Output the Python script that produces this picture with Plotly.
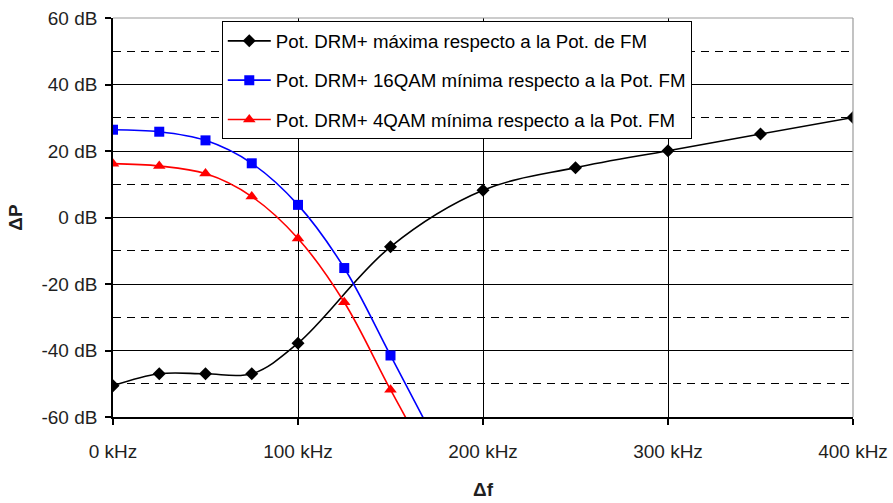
import plotly.graph_objects as go

# Data (frequency offset in kHz, power difference in dB)
freq_black = [0, 25, 50, 75, 100, 150, 200, 250, 300, 350, 400]
p_max = [-50.6, -47.0, -47.0, -47.0, -37.8, -8.8, 8.2, 15.0, 20.1, 25.1, 30.1]

freq_qam = [0, 25, 50, 75, 100, 125, 150, 175]
p_16qam = [26.4, 25.8, 23.2, 16.3, 3.8, -15.2, -41.5, -68.0]
p_4qam = [16.2, 15.5, 13.2, 6.3, -6.3, -25.5, -51.8, -77.0]

names = [
    "Pot. DRM+ máxima respecto a la Pot. de FM",
    "Pot. DRM+ 16QAM mínima respecto a la Pot. FM",
    "Pot. DRM+ 4QAM mínima respecto a la Pot. FM",
]

x_ticks = [0, 100, 200, 300, 400]
x_labels = ["0 kHz", "100 kHz", "200 kHz", "300 kHz", "400 kHz"]
y_ticks = [-60, -40, -20, 0, 20, 40, 60]
y_labels = ["-60 dB", "-40 dB", "-20 dB", "0 dB", "20 dB", "40 dB", "60 dB"]

FONT = "Liberation Sans, Arial, sans-serif"
TXT = "#1f1f1f"

fig = go.Figure()
fig.add_trace(go.Scatter(
    x=freq_black, y=p_max, name=names[0], mode="lines+markers",
    line=dict(color="black", width=1.6, shape="spline", smoothing=1.0),
    marker=dict(symbol="diamond", size=10, color="black"),
    legendgroup="a",
))
fig.add_trace(go.Scatter(
    x=freq_qam, y=p_16qam, name=names[1], mode="lines+markers",
    line=dict(color="#0000ff", width=1.6, shape="spline", smoothing=1.0),
    marker=dict(symbol="square", size=10, color="#0000ff"),
    legendgroup="b",
))
fig.add_trace(go.Scatter(
    x=freq_qam, y=p_4qam, name=names[2], mode="lines+markers",
    line=dict(color="#ff0000", width=1.6, shape="spline", smoothing=1.0),
    marker=dict(symbol="triangle-up", size=11, color="#ff0000"),
    legendgroup="c",
))

fig.update_layout(
    width=893, height=503,
    margin=dict(l=113, r=40, t=18, b=86),
    paper_bgcolor="white", plot_bgcolor="white",
    font=dict(family=FONT, size=19, color=TXT),
    showlegend=True,
    legend=dict(
        x=0.147, y=0.992, xanchor="left", yanchor="top",
        bgcolor="white", bordercolor="black", borderwidth=1,
        font=dict(family=FONT, size=18.7, color="black"),
        traceorder="grouped", tracegroupgap=12, itemwidth=43,
    ),
    xaxis=dict(
        range=[0, 400], tickvals=x_ticks, ticktext=x_labels,
        tickfont=dict(size=19, color=TXT), ticklabeloverflow="allow",
        automargin=False,
        showgrid=True, gridcolor="black", gridwidth=1.3,
        showline=True, linecolor="black", linewidth=1.5,
        ticks="outside", ticklen=6, tickcolor="black", tickwidth=1.5,
        ticklabelstandoff=10, zeroline=False,
        title=dict(text="<b>Δf</b>", font=dict(size=19, color=TXT), standoff=22),
    ),
    yaxis=dict(
        range=[-60, 60], tickvals=y_ticks, ticktext=y_labels,
        tickfont=dict(size=19, color=TXT), ticklabeloverflow="allow",
        automargin=False,
        showgrid=True, gridcolor="black", gridwidth=1.3,
        showline=True, linecolor="black", linewidth=1.5,
        ticks="outside", ticklen=6, tickcolor="black", tickwidth=1.5,
        ticklabelstandoff=4, zeroline=False,
        minor=dict(dtick=10, tick0=0, showgrid=True, gridcolor="black",
                   gridwidth=1.1, griddash="8px,6px", ticks=""),
        title=dict(text="<b>ΔP</b>", font=dict(size=19, color=TXT), standoff=14),
    ),
)

# light grey frame on top and right
fig.add_shape(type="line", xref="paper", yref="paper", x0=0, x1=1, y0=1, y1=1,
              line=dict(color="#9a9a9a", width=1.2))
fig.add_shape(type="line", xref="paper", yref="paper", x0=1, x1=1, y0=0, y1=1,
              line=dict(color="#9a9a9a", width=1.2))

# remove the default page margin so the figure fills the window exactly
fig.write_html(
    "out.html",
    config={"displayModeBar": False},
    post_script="document.body.style.margin='0';document.body.style.overflow='hidden';",
)
